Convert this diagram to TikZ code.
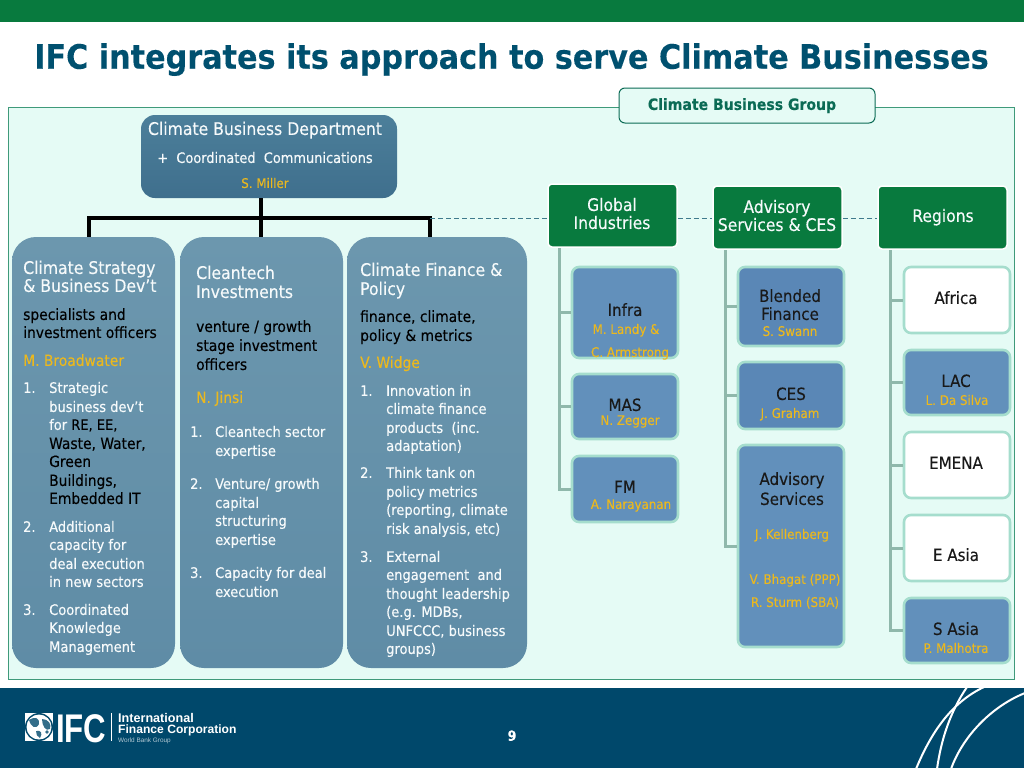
\documentclass[tikz,border=0pt]{standalone}
\usepackage{fontspec}
\setmainfont[FakeBold=0.2,BoldFont={DejaVu Sans Condensed Bold}]{DejaVu Sans Condensed}
\newfontfamily\logofont{Liberation Sans}
\usetikzlibrary{calc}
\definecolor{gold}{HTML}{EBB81E}
\definecolor{titleblue}{HTML}{00506F}
\definecolor{footblue}{HTML}{00486B}
\definecolor{barGreen}{HTML}{087A3E}
\definecolor{panelfill}{HTML}{E5FBF5}
\definecolor{panelline}{HTML}{3F9A7A}
\definecolor{trunk}{HTML}{8FB8AB}
\definecolor{edge}{HTML}{A5DDCD}
\definecolor{txtw}{HTML}{F6FAFB}
\definecolor{groupgreen}{HTML}{0B6B55}
\definecolor{dashc}{HTML}{3F7A8C}
\definecolor{deptTop}{HTML}{4C7F9A}
\definecolor{deptBot}{HTML}{3F6F8D}
\newcommand\bx[7][]{%
  \pgfmathsetmacro\bw{#5-#3}\pgfmathsetmacro\bh{#6-#4}%
  \pgfmathsetmacro\cx{(#5+#3)/2}\pgfmathsetmacro\cy{(#6+#4)/2}%
  \node[shape=rectangle,inner sep=0pt,minimum width=\bw pt,minimum height=\bh pt,#1] (#2) at (\cx,\cy) {#7};}
\newcommand\tl[5][]{\node[txt,#1] (#2) at (#3,#4) {#5};}
\newcommand\tc[5][]{\node[txc,#1] (#2) at (#3,#4) {#5};}
\tikzset{
  txt/.style={inner sep=0pt,anchor=mid west,yshift=-2.2pt,text=txtw,font=\fontsize{14.5}{17}\selectfont},
  txc/.style={inner sep=0pt,anchor=mid,yshift=-2.2pt,text=txtw,font=\fontsize{14.5}{17}\selectfont},
  head/.style={font=\fontsize{17.4}{19}\selectfont},
  sub/.style={text=black,font=\fontsize{15.4}{17}\selectfont},
  boss/.style={text=gold,font=\fontsize{15.4}{16}\selectfont},
  bosss/.style={text=gold,font=\fontsize{13.2}{14}\selectfont},
  dk/.style={text=black!90,font=\fontsize{16.8}{18}\selectfont},
  gh/.style={font=\fontsize{17.3}{19}\selectfont},
  column/.style={rounded corners=24pt,top color=colTop,bottom color=colBot,draw=none},
  greenbox/.style={rounded corners=4pt,fill=barGreen,draw=white,line width=1.5pt},
  unit/.style={rounded corners=7pt,draw=edge,line width=2.6pt,fill=#1},
  trunkline/.style={draw=trunk,line width=3pt},
  heavy/.style={draw=black,line width=4.2pt},
  dashy/.style={draw=dashc,line width=1pt,dash pattern=on 5pt off 3pt},
  arc/.style={draw=white,line width=2pt},
}
\definecolor{colTop}{HTML}{6C97AE}
\definecolor{colBot}{HTML}{5F8CA6}
\definecolor{unitA}{HTML}{6290BB}
\definecolor{unitB}{HTML}{5A87B6}
\begin{document}
\begin{tikzpicture}[x=1pt,y=-1pt]
\useasboundingbox (0,0) rectangle (1024,768);
\fill[white] (0,0) rectangle (1024,768);
\bx[fill=barGreen]{topbar}{0}{0}{1024}{22}{}
\node[inner sep=0pt,anchor=mid,text=titleblue,font=\fontsize{33.6}{38}\selectfont\bfseries] (title) at (511.5,66) {IFC integrates its approach to serve Climate Businesses};
\bx[fill=panelfill,draw=panelline,line width=1pt]{panel}{8}{107}{1014}{679}{}
\bx[rounded corners=6pt,fill=panelfill,draw=groupgreen,line width=1pt]{group}{619}{88}{875}{123}{}
\tc[text=groupgreen,font=\fontsize{15.6}{18}\selectfont\bfseries]{groupT}{742}{105}{Climate Business Group}

% department
\bx[rounded corners=14pt,top color=deptTop,bottom color=deptBot,draw=none]{dept}{141}{115}{397}{198}{}
\tc[head]{dA}{265}{130}{Climate Business Department}
\tc[font=\fontsize{14.4}{16}\selectfont]{dB}{265}{158}{+ \ Coordinated \ Communications}
\tc[bosss]{dC}{265}{183}{S. Miller}

% columns
\bx[column]{colA}{12}{237}{175}{668}{}
\bx[column]{colB}{180}{237}{343}{668}{}
\bx[column]{colC}{347}{237}{527}{668}{}

% heavy connectors
\coordinate (stem) at (dept.south -| 261,0);
\coordinate (hub) at (261,218);
\coordinate (hubL) at (89,218);
\coordinate (hubR) at (430,218);
\draw[heavy,line cap=rect] (hubL) -- (hubR);
\draw[heavy] (stem) -- (hub);
\draw[heavy] (hubL) -- (colA.north -| hubL);
\draw[heavy] (hub) -- (colB.north -| hub);
\draw[heavy] (hubR) -- (colC.north -| hubR);

% green headers
\bx[greenbox]{gi}{548}{184}{677}{247}{}
\bx[greenbox]{adv}{713}{186}{842}{249}{}
\bx[greenbox]{reg}{878}{186}{1007}{249}{}
\draw[dashy] (hubR) -- (gi.west |- hubR);
\draw[dashy] (gi.east |- hubR) -- (adv.west |- hubR);
\draw[dashy] (adv.east |- hubR) -- (reg.west |- hubR);
\tc[gh]{giA}{612}{206}{Global}
\tc[gh]{giB}{612}{224}{Industries}
\tc[gh]{advA}{777}{208}{Advisory}
\tc[gh]{advB}{777}{226}{Services \& CES}
\tc[gh]{regA}{943}{217}{Regions}

% units
\bx[unit=unitA]{infra}{572}{267}{678}{358}{}
\bx[unit=unitA]{mas}{572}{374}{678}{439}{}
\bx[unit=unitA]{fm}{572}{456}{678}{522}{}
\bx[unit=unitB]{bf}{738}{267}{844}{346}{}
\bx[unit=unitB]{ces}{738}{362}{844}{429}{}
\bx[unit=unitA]{as}{738}{445}{844}{647}{}
\bx[unit=white]{africa}{904}{267}{1010}{333}{}
\bx[unit=unitA]{lac}{904}{350}{1010}{415}{}
\bx[unit=white]{emena}{904}{432}{1010}{498}{}
\bx[unit=white]{easia}{904}{515}{1010}{581}{}
\bx[unit=unitA]{sasia}{904}{598}{1010}{663}{}

% trunks
\coordinate (tG) at (559,248);
\coordinate (tA) at (725,250);
\coordinate (tR) at (890,250);
\draw[trunkline] (tG) |- (fm.west);
\draw[trunkline] (tG |- 0,312) -- (infra.west |- 0,312);
\draw[trunkline] (tG |- mas.west) -- (mas.west);
\draw[trunkline] (tA) |- (as.west |- 0,546);
\draw[trunkline] (tA |- 0,306) -- (bf.west |- 0,306);
\draw[trunkline] (tA |- 0,395) -- (ces.west |- 0,395);
\draw[trunkline] (tR) |- (sasia.west);
\draw[trunkline] (tR |- africa.west) -- (africa.west);
\draw[trunkline] (tR |- lac.west) -- (lac.west);
\draw[trunkline] (tR |- emena.west) -- (emena.west);
\draw[trunkline] (tR |- easia.west) -- (easia.west);

% unit text
\tc[dk]{u1}{625}{311}{Infra}
\tc[bosss]{u2}{626}{329}{M. Landy \&}
\tc[bosss]{u3}{630}{352}{C. Armstrong}
\tc[dk]{u4}{625}{406}{MAS}
\tc[bosss]{u5}{630}{420}{N. Zegger}
\tc[dk]{u6}{625}{488}{FM}
\tc[bosss]{u7}{631}{504}{A. Narayanan}
\tc[dk]{u8}{790}{297}{Blended}
\tc[dk]{u9}{790}{315}{Finance}
\tc[bosss]{u10}{790}{331}{S. Swann}
\tc[dk]{u11}{791}{395}{CES}
\tc[bosss]{u12}{790}{413}{J. Graham}
\tc[dk]{u13}{792}{480}{Advisory}
\tc[dk]{u14}{792}{500}{Services}
\tc[bosss]{u15}{792}{534}{J. Kellenberg}
\tc[bosss]{u16}{795}{579}{V. Bhagat (PPP)}
\tc[bosss]{u17}{795}{602}{R. Sturm (SBA)}
\tc[dk]{u18}{956}{299}{Africa}
\tc[dk]{u19}{956}{382}{LAC}
\tc[bosss]{u20}{957}{400}{L. Da Silva}
\tc[dk]{u21}{956}{464}{EMENA}
\tc[dk]{u22}{956}{556}{E Asia}
\tc[dk]{u23}{956}{630}{S Asia}
\tc[bosss]{u24}{956}{648}{P. Malhotra}

% column A
\tl[head]{a1}{23}{269}{Climate Strategy}
\tl[head]{a2}{23}{287}{\& Business Dev’t}
\tl[sub]{a3}{23}{315}{specialists and}
\tl[sub]{a4}{23}{333}{investment officers}
\tl[boss]{a5}{23}{361}{M. Broadwater}
\tl{a6}{23}{388}{1.}
\tl{a7}{49}{388}{Strategic}
\tl{a8}{49}{407}{business dev’t}
\tl{a9}{49}{425}{for \textcolor{black}{RE, EE,}}
\tl[sub]{a10}{49}{444}{Waste, Water,}
\tl[sub]{a11}{49}{462}{Green}
\tl[sub]{a12}{49}{481}{Buildings,}
\tl[sub]{a13}{49}{499}{Embedded IT}
\tl{a14}{23}{527}{2.}
\tl{a15}{49}{527}{Additional}
\tl{a16}{49}{545}{capacity for}
\tl{a17}{49}{564}{deal execution}
\tl{a18}{49}{582}{in new sectors}
\tl{a19}{23}{610}{3.}
\tl{a20}{49}{610}{Coordinated}
\tl{a21}{49}{628}{Knowledge}
\tl{a22}{49}{647}{Management}

% column B
\tl[head]{b1}{196}{274}{Cleantech}
\tl[head]{b2}{196}{293}{Investments}
\tl[sub]{b3}{196}{327}{venture / growth}
\tl[sub]{b4}{196}{346}{stage investment}
\tl[sub]{b5}{196}{365}{officers}
\tl[boss]{b6}{196}{398}{N. Jinsi}
\tl{b7}{190}{432}{1.}
\tl{b8}{215}{432}{Cleantech sector}
\tl{b9}{215}{451}{expertise}
\tl{b10}{190}{484}{2.}
\tl{b11}{215}{484}{Venture/ growth}
\tl{b12}{215}{503}{capital}
\tl{b13}{215}{521}{structuring}
\tl{b14}{215}{540}{expertise}
\tl{b15}{190}{573}{3.}
\tl{b16}{215}{573}{Capacity for deal}
\tl{b17}{215}{592}{execution}

% column C
\tl[head]{c1}{360}{271}{Climate Finance \&}
\tl[head]{c2}{360}{290}{Policy}
\tl[sub]{c3}{360}{317}{finance, climate,}
\tl[sub]{c4}{360}{336}{policy \& metrics}
\tl[boss]{c5}{360}{363}{V. Widge}
\tl{c6}{360}{391}{1.}
\tl{c7}{386}{391}{Innovation in}
\tl{c8}{386}{409}{climate finance}
\tl{c9}{386}{428}{products \ (inc.}
\tl{c10}{386}{446}{adaptation)}
\tl{c11}{360}{473}{2.}
\tl{c12}{386}{473}{Think tank on}
\tl{c13}{386}{492}{policy metrics}
\tl{c14}{386}{510}{(reporting, climate}
\tl{c15}{386}{529}{risk analysis, etc)}
\tl{c16}{360}{557}{3.}
\tl{c17}{386}{557}{External}
\tl{c18}{386}{575}{engagement \ and}
\tl{c19}{386}{594}{thought leadership}
\tl{c20}{386}{612}{(e.g. MDBs,}
\tl{c21}{386}{631}{UNFCCC, business}
\tl{c22}{386}{649}{groups)}

% footer
\bx[fill=footblue]{footer}{0}{688}{1024}{768}{}
\node[inner sep=0pt,anchor=mid,text=white,font=\fontsize{14}{16}\selectfont\bfseries] (page) at (512,738) {9};
\begin{scope}
\clip (0,688) rectangle (1024,768);
\coordinate (a1s) at (916,769);\coordinate (a1e) at (984,687);
\coordinate (a2s) at (937,769);\coordinate (a2e) at (967,687);
\coordinate (a3s) at (951,769);\coordinate (a3e) at (1025,693);
\draw[arc] (a1s) .. controls (930,735) and (950,703) .. (a1e);
\draw[arc] (a2s) .. controls (941,740) and (950,712) .. (a2e);
\draw[arc] (a3s) .. controls (962,738) and (990,707) .. (a3e);
\end{scope}
% logo
\fill[white] (25,713) rectangle (53,741);
\fill[footblue] (39,727) circle (14);
\fill[white] (39,727) circle (12.5);
\fill[footblue!80] (29,720) .. controls (35,716) and (40,718) .. (39,724) .. controls (36,730) and (31,727) .. cycle;
\fill[footblue!80] (42,719) .. controls (48,719) and (52,724) .. (50,729) .. controls (46,732) and (42,726) .. cycle;
\fill[footblue!80] (36,731) .. controls (41,730) and (43,733) .. (40,738) .. controls (37,737) and (36,734) .. cycle;
\fill[footblue!80] (47,732) circle (1.8);
\node[inner sep=0pt,anchor=base west,xscale=0.78,text=white,font=\logofont\fontsize{40}{40}\selectfont\bfseries] (ifc) at (56,742) {IFC};
\draw[white,line width=0.7pt] (111,713) -- (111,741);
\node[inner sep=0pt,anchor=base west,text=white,font=\logofont\fontsize{12.6}{13}\selectfont\bfseries] (ifcA) at (118,722) {International};
\node[inner sep=0pt,anchor=base west,text=white,font=\logofont\fontsize{12.1}{13}\selectfont\bfseries] (ifcB) at (118,733.5) {Finance Corporation};
\node[inner sep=0pt,anchor=base west,text=white!70!footblue,font=\logofont\fontsize{6.4}{8}\selectfont] (ifcC) at (118,742.5) {World Bank Group};
\end{tikzpicture}
\end{document}
